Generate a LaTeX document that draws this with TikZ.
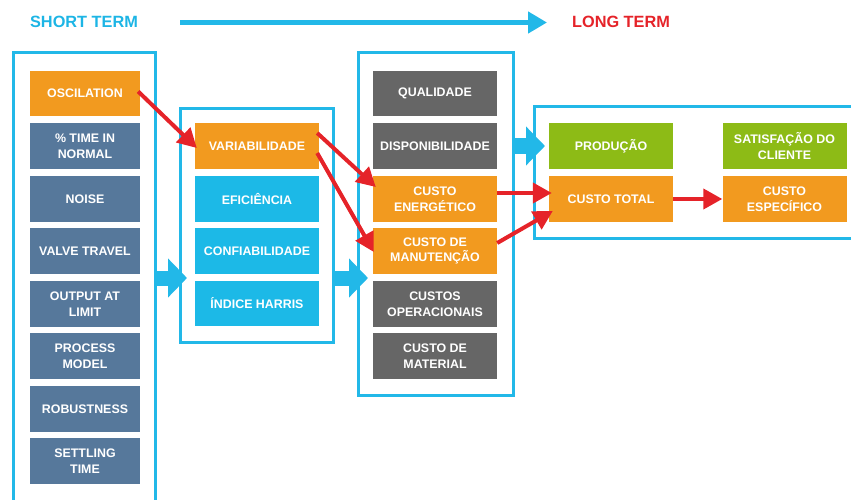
\documentclass[tikz,border=0pt]{standalone}
\usepackage{fontspec}
\setmainfont{Liberation Sans}
\usetikzlibrary{arrows.meta,calc}

\definecolor{cOrange}{HTML}{F29A1F}
\definecolor{cSteel}{HTML}{56789B}
\definecolor{cCyan}{HTML}{1CB9E7}
\definecolor{cGray}{HTML}{666666}
\definecolor{cGreen}{HTML}{8DBB16}
\definecolor{cFrame}{HTML}{22B8E8}
\definecolor{cRed}{HTML}{E52329}
\definecolor{cTitleBlue}{HTML}{1DB5E5}

\tikzset{
  box/.style={inner sep=0pt, minimum width=124pt, minimum height=45.5pt,
    align=center, text=white, font=\bfseries\fontsize{12.4}{15.5}\selectfont},
  narrow/.style={box, minimum width=110pt},
  frame/.style={draw=cFrame, line width=3pt},
  flow/.style={draw=cFrame, line width=15pt,
    -{Triangle[length=19pt,width=38pt]}},
  link/.style={draw=cRed, line width=4pt,
    -{Triangle[length=19pt,width=20pt]}},
  heading/.style={font=\bfseries\fontsize{16.3}{18}\selectfont, inner sep=0pt}
}

\begin{document}
\begin{tikzpicture}[x=1pt,y=-1pt]
\useasboundingbox (0,0) rectangle (851,500);

% time axis
\node[heading, text=cTitleBlue] (st) at (84,22) {SHORT TERM};
\node[heading, text=cRed] (lt) at (621,22) {LONG TERM};
\coordinate (axisA) at (180,22.5);
\coordinate (axisB) at (547,22.5);
\draw[draw=cFrame, line width=4.5pt, -{Triangle[length=19pt,width=21pt]}] (axisA) -- (axisB);

% containers
\draw[frame] (13,505) -- (13,53) -- (155,53) -- (155,505);
\draw[frame] (180,109) rectangle (333,342);
\draw[frame] (358,53) rectangle (513,395);
\draw[frame] (860,107) -- (534,107) -- (534,238) -- (860,238);

% short-term indicators
\node[narrow, fill=cOrange] (osc) at (85,93.5) {OSCILATION};
\node[narrow, fill=cSteel] (tin) at (85,146) {\% TIME IN\\NORMAL};
\node[narrow, fill=cSteel] (noi) at (85,199) {NOISE};
\node[narrow, fill=cSteel] (vtr) at (85,251) {VALVE TRAVEL};
\node[narrow, fill=cSteel] (oal) at (85,304) {OUTPUT AT\\LIMIT};
\node[narrow, fill=cSteel] (pmo) at (85,356) {PROCESS\\MODEL};
\node[narrow, fill=cSteel] (rob) at (85,409) {ROBUSTNESS};
\node[narrow, fill=cSteel] (set) at (85,461) {SETTLING\\TIME};

% performance indicators
\node[box, fill=cOrange] (var) at (257,146) {VARIABILIDADE};
\node[box, fill=cCyan] (efi) at (257,199) {EFICIÊNCIA};
\node[box, fill=cCyan] (con) at (257,251) {CONFIABILIDADE};
\node[box, fill=cCyan] (har) at (257,303.5) {ÍNDICE HARRIS};

% operational indicators
\node[box, fill=cGray] (qua) at (435,93.5) {QUALIDADE};
\node[box, fill=cGray] (dis) at (435,146) {DISPONIBILIDADE};
\node[box, fill=cOrange] (cen) at (435,199) {CUSTO\\ENERGÉTICO};
\node[box, fill=cOrange] (man) at (435,251) {CUSTO DE\\MANUTENÇÃO};
\node[box, fill=cGray] (ope) at (435,304) {CUSTOS\\OPERACIONAIS};
\node[box, fill=cGray] (mat) at (435,356) {CUSTO DE\\MATERIAL};

% business indicators
\node[box, fill=cGreen] (pro) at (611,146) {PRODUÇÃO};
\node[box, fill=cGreen] (sat) at (784.5,146) {SATISFAÇÃO DO\\CLIENTE};
\node[box, fill=cOrange] (tot) at (611,199) {CUSTO TOTAL};
\node[box, fill=cOrange] (esp) at (784.5,199) {CUSTO\\ESPECÍFICO};

% flow between groups
\draw[flow] (155,278) -- (187,278);
\draw[flow] (333,278) -- (368,278);
\draw[flow] (513,146) -- (545,146);

% cause links
\draw[link] ($(osc.east)+(-2,-2)$) -- ($(var.west)+(2,2)$);
\draw[link] ($(var.east)+(-2,-13)$) -- ($(cen.west)+(3,-12)$);
\draw[link] ($(var.east)+(-2,7)$) -- ($(man.west)+(1,1)$);
\draw[link] ($(cen.east)+(0,-6)$) -- ($(tot.west)+(3,-6)$);
\draw[link] ($(man.east)+(0,-8)$) -- ($(tot.west)+(4,12)$);
\draw[link] (tot.east) -- (esp.west);
\end{tikzpicture}
\end{document}
